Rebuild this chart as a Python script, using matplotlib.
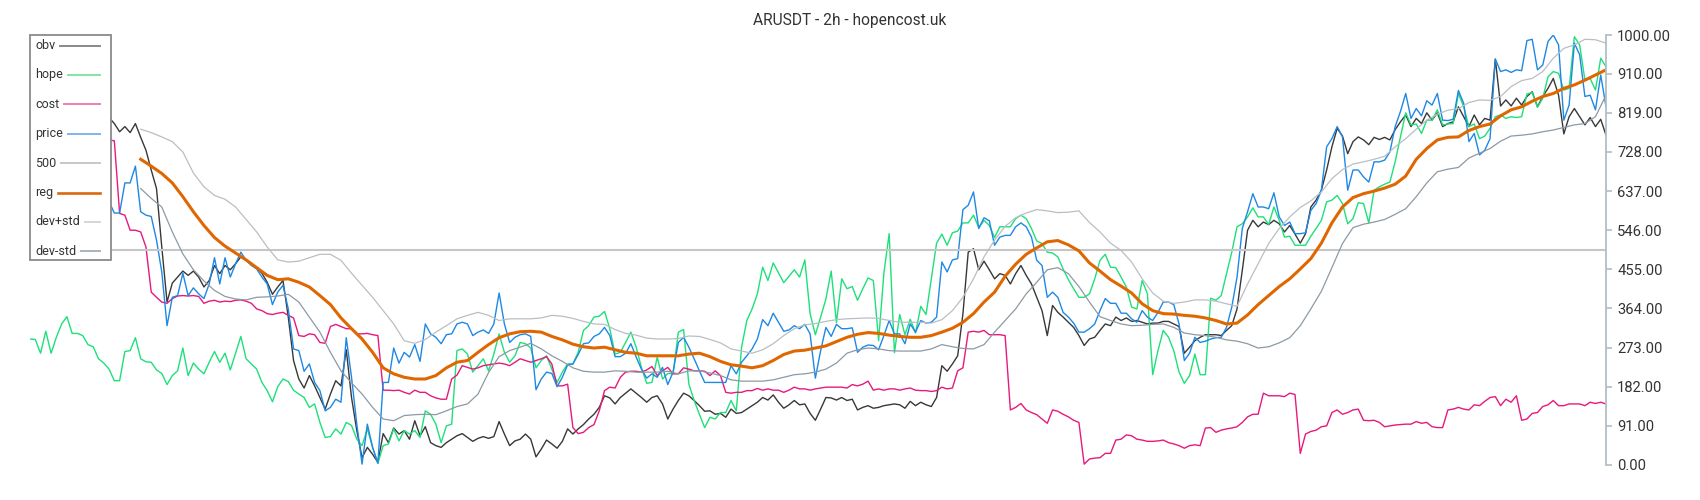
import numpy as np
import matplotlib.pyplot as plt
from matplotlib.lines import Line2D
from matplotlib.patches import Rectangle

plt.rcParams['font.family'] = ['Roboto', 'DejaVu Sans']

title = 'ARUSDT - 2h - hopencost.uk'

# hope: one value per 2h candle (300 candles)
hope = [
    293, 292, 260, 311, 260, 297, 328, 345, 306, 306,
    301, 280, 275, 247, 237, 223, 196, 196, 264, 266,
    296, 247, 240, 239, 221, 213, 187, 208, 219, 272,
    208, 237, 223, 212, 239, 264, 239, 260, 221, 260,
    299, 247, 235, 223, 192, 173, 147, 182, 200, 194,
    174, 165, 157, 134, 142, 99, 64, 66, 84, 72,
    99, 92, 60, 45, 84, 41, 4, 45, 49, 84,
    56, 80, 72, 80, 64, 126, 118, 95, 52, 91,
    95, 266, 270, 258, 216, 231, 247, 219, 258, 305,
    262, 239, 254, 285, 282, 272, 226, 243, 254, 223,
    192, 216, 235, 235, 262, 313, 324, 344, 346, 357,
    317, 258, 262, 285, 309, 274, 227, 190, 192, 251,
    200, 213, 212, 309, 315, 188, 150, 118, 87, 111,
    107, 122, 122, 150, 126, 274, 336, 363, 398, 460,
    429, 470, 447, 424, 439, 454, 437, 477, 352, 303,
    344, 386, 451, 331, 433, 410, 415, 383, 410, 435,
    429, 289, 446, 538, 261, 350, 303, 339, 307, 369,
    350, 433, 516, 537, 511, 540, 544, 563, 563, 581,
    552, 569, 557, 529, 554, 554, 554, 573, 581, 573,
    550, 521, 515, 495, 493, 484, 456, 431, 410, 390,
    390, 398, 433, 476, 490, 460, 459, 437, 414, 367,
    363, 429, 398, 210, 266, 313, 297, 266, 216, 190,
    208, 258, 210, 210, 388, 383, 394, 445, 495, 554,
    561, 577, 598, 577, 577, 559, 600, 569, 530, 532,
    511, 511, 511, 532, 550, 569, 612, 616, 627, 608,
    561, 573, 610, 608, 563, 639, 647, 653, 658, 705,
    763, 819, 791, 793, 771, 802, 802, 826, 791, 793,
    794, 864, 833, 787, 793, 759, 765, 783, 810, 814,
    806, 810, 808, 810, 863, 866, 832, 853, 903, 915,
    911, 872, 876, 996, 977, 895, 899, 872, 946, 926,
]

# obv, cost and price from candle 15 on (earlier candles sit behind the legend)
first_visible = 15
obv = [
    808, 794, 775, 787, 773, 794, 762, 732, 686, 643,
    507, 379, 423, 437, 451, 441, 451, 437, 414, 429,
    464, 445, 464, 454, 468, 484, 476, 468, 459, 446,
    425, 397, 414, 429, 344, 243, 200, 179, 208, 184,
    157, 130, 165, 196, 184, 268, 157, 80, 17, 41,
    25, 6, 73, 52, 86, 72, 80, 60, 103, 68,
    89, 52, 45, 41, 52, 60, 68, 73, 64, 55,
    62, 66, 62, 66, 101, 72, 45, 56, 60, 72,
    60, 19, 37, 58, 49, 39, 55, 84, 72, 84,
    94, 107, 118, 134, 161, 156, 142, 157, 167, 177,
    167, 157, 146, 157, 161, 142, 107, 130, 150, 167,
    161, 150, 138, 125, 126, 118, 120, 111, 130, 120,
    122, 130, 138, 146, 157, 151, 163, 146, 132, 140,
    150, 140, 142, 120, 104, 130, 157, 156, 151, 157,
    150, 153, 128, 134, 138, 132, 134, 138, 140, 142,
    140, 132, 148, 138, 146, 140, 136, 157, 231, 218,
    235, 254, 352, 495, 503, 454, 474, 454, 433, 445,
    441, 421, 445, 464, 441, 421, 390, 359, 301, 371,
    355, 344, 332, 320, 301, 278, 293, 297, 313, 328,
    324, 344, 336, 342, 334, 336, 332, 328, 330, 330,
    334, 334, 328, 322, 260, 274, 289, 297, 303, 303,
    303, 301, 313, 324, 363, 453, 546, 569, 554, 565,
    559, 569, 561, 542, 557, 537, 516, 538, 600, 616,
    639, 686, 740, 783, 765, 724, 752, 763, 756, 745,
    762, 757, 762, 756, 780, 798, 814, 787, 806, 794,
    819, 802, 819, 787, 794, 798, 833, 810, 787, 814,
    791, 806, 802, 944, 835, 849, 835, 853, 837, 857,
    868, 833, 857, 876, 899, 860, 770, 810, 829, 810,
    791, 808, 787, 804, 767,
]
cost = [
    756, 754, 585, 581, 546, 546, 542, 507, 402, 390,
    379, 376, 387, 393, 394, 393, 394, 392, 376, 381,
    383, 379, 381, 380, 383, 384, 381, 376, 363, 359,
    352, 350, 353, 355, 348, 342, 301, 299, 305, 303,
    285, 283, 322, 327, 322, 317, 317, 305, 305, 306,
    303, 301, 174, 174, 173, 174, 169, 165, 174, 169,
    169, 161, 156, 153, 153, 200, 209, 231, 227, 223,
    226, 231, 233, 235, 237, 235, 231, 239, 247, 243,
    239, 243, 247, 252, 235, 184, 184, 188, 87, 73,
    76, 87, 94, 126, 173, 181, 179, 204, 216, 218,
    218, 216, 221, 229, 208, 219, 227, 212, 212, 226,
    223, 219, 219, 218, 208, 219, 208, 169, 167, 169,
    169, 173, 173, 178, 174, 177, 174, 174, 169, 174,
    181, 177, 177, 174, 177, 179, 181, 181, 181, 181,
    179, 187, 184, 188, 195, 174, 177, 174, 177, 177,
    174, 177, 179, 174, 173, 173, 171, 173, 181, 177,
    179, 219, 226, 309, 311, 309, 313, 303, 303, 303,
    301, 128, 134, 143, 128, 122, 117, 107, 97, 128,
    125, 118, 112, 104, 99, 2, 14, 16, 17, 27,
    27, 58, 60, 70, 68, 60, 58, 55, 55, 56,
    58, 52, 49, 45, 39, 45, 47, 45, 86, 87,
    76, 81, 84, 86, 89, 99, 112, 118, 118, 167,
    161, 161, 161, 159, 167, 164, 27, 72, 78, 81,
    89, 91, 122, 128, 118, 122, 128, 130, 104, 103,
    104, 99, 89, 91, 93, 94, 95, 95, 101, 97,
    99, 89, 87, 87, 128, 130, 134, 130, 128, 140,
    138, 148, 157, 159, 138, 153, 146, 161, 104, 107,
    120, 122, 136, 140, 150, 138, 138, 142, 142, 142,
    138, 146, 143, 146, 142,
]
price = [
    612, 586, 586, 656, 656, 695, 589, 581, 578, 523,
    449, 324, 390, 394, 446, 394, 412, 398, 387, 421,
    482, 421, 482, 437, 468, 495, 476, 464, 456, 437,
    421, 373, 402, 418, 363, 270, 266, 218, 235, 192,
    173, 126, 134, 153, 146, 296, 204, 95, 2, 95,
    41, 4, 192, 192, 272, 237, 262, 251, 280, 241,
    328, 305, 297, 282, 303, 305, 328, 332, 328, 301,
    309, 314, 306, 328, 400, 328, 285, 297, 303, 305,
    299, 175, 200, 216, 213, 182, 204, 233, 235, 257,
    282, 284, 299, 305, 320, 301, 252, 252, 260, 282,
    251, 223, 202, 212, 204, 227, 187, 216, 285, 297,
    274, 247, 219, 192, 192, 192, 192, 192, 231, 212,
    239, 254, 270, 293, 338, 324, 353, 332, 311, 314,
    324, 317, 327, 305, 202, 266, 320, 299, 327, 317,
    317, 319, 262, 274, 279, 278, 268, 301, 336, 305,
    305, 282, 328, 309, 336, 330, 332, 344, 472, 449,
    477, 480, 594, 604, 635, 550, 575, 568, 511, 530,
    534, 534, 554, 563, 554, 530, 476, 464, 390, 402,
    390, 355, 344, 330, 309, 309, 317, 328, 359, 387,
    376, 376, 353, 353, 340, 332, 359, 344, 336, 355,
    379, 379, 373, 328, 243, 260, 297, 285, 288, 293,
    296, 297, 320, 367, 437, 550, 589, 631, 600, 600,
    596, 633, 577, 557, 565, 538, 538, 540, 592, 608,
    639, 740, 759, 787, 763, 639, 686, 686, 670, 658,
    705, 705, 709, 728, 787, 822, 864, 806, 829, 812,
    847, 837, 864, 802, 801, 804, 871, 841, 752, 771,
    721, 732, 759, 944, 915, 919, 913, 919, 917, 987,
    990, 919, 930, 985, 1000, 977, 802, 837, 981, 954,
    857, 860, 826, 907, 833,
]

# regression line and its bands, read every second candle from candle 21
band_start = 21
band_step = 2
reg = [
    711, 695, 678, 656, 624, 589, 557, 529, 509, 493,
    477, 459, 441, 431, 433, 425, 414, 394, 373, 342,
    317, 293, 262, 226, 212, 204, 200, 200, 208, 226,
    239, 243, 262, 280, 296, 305, 310, 311, 309, 299,
    291, 281, 275, 272, 274, 268, 262, 260, 254, 254,
    254, 254, 258, 260, 252, 241, 233, 230, 226, 231,
    243, 257, 265, 267, 272, 277, 287, 297, 304, 308,
    306, 302, 299, 297, 297, 301, 309, 318, 332, 352,
    379, 402, 439, 467, 490, 505, 519, 522, 512, 498,
    470, 451, 431, 416, 400, 375, 359, 352, 351, 348,
    346, 342, 336, 328, 330, 349, 373, 394, 415, 433,
    456, 480, 516, 563, 600, 622, 631, 637, 644, 653,
    672, 711, 736, 756, 762, 763, 778, 787, 793, 812,
    826, 833, 846, 857, 864, 876, 884, 895, 907, 919,
]
dev_plus = [
    781, 773, 763, 752, 728, 679, 647, 627, 618, 600,
    571, 542, 507, 477, 472, 474, 482, 490, 490, 476,
    446, 418, 390, 359, 328, 289, 283, 292, 309, 324,
    340, 348, 355, 348, 336, 340, 340, 340, 342, 348,
    346, 341, 334, 328, 327, 315, 306, 302, 295, 293,
    293, 294, 300, 299, 292, 284, 270, 265, 260, 268,
    282, 301, 317, 326, 329, 334, 338, 340, 341, 342,
    341, 336, 332, 332, 332, 330, 338, 359, 390, 433,
    484, 523, 555, 575, 586, 594, 591, 587, 588, 591,
    564, 542, 516, 499, 472, 433, 400, 381, 376, 379,
    384, 384, 381, 375, 369, 421, 468, 515, 550, 577,
    599, 614, 635, 666, 687, 700, 705, 711, 718, 740,
    759, 781, 802, 816, 825, 829, 843, 849, 848, 857,
    880, 894, 899, 915, 946, 969, 977, 990, 989, 981,
]
dev_minus = [
    643, 620, 600, 542, 491, 454, 428, 406, 392, 386,
    384, 390, 391, 393, 397, 379, 344, 309, 262, 219,
    191, 165, 134, 107, 103, 115, 117, 118, 117, 126,
    136, 142, 165, 215, 252, 266, 274, 283, 270, 254,
    241, 226, 218, 216, 216, 219, 218, 216, 216, 216,
    218, 212, 219, 219, 214, 208, 198, 195, 195, 195,
    198, 204, 210, 212, 216, 223, 237, 260, 268, 272,
    270, 266, 265, 265, 265, 270, 280, 275, 271, 270,
    280, 309, 336, 363, 398, 425, 454, 459, 445, 415,
    379, 345, 336, 328, 324, 325, 327, 328, 320, 307,
    303, 301, 297, 291, 288, 282, 272, 275, 284, 296,
    324, 363, 404, 459, 515, 552, 560, 565, 571, 583,
    596, 624, 656, 682, 688, 692, 714, 725, 736, 753,
    765, 767, 770, 775, 779, 785, 791, 794, 810, 860,
]

level_500 = 500
y_ticks = [0, 91, 182, 273, 364, 455, 546, 637, 728, 819, 910, 1000]

legend_labels = ['obv', 'hope', 'cost', 'price', '500', 'reg', 'dev+std', 'dev-std']
legend_colors = ['#8a8a8a', '#7ee6a6', '#ee7cb8', '#7fb6ea', '#c8c8c8', '#db6a0c', '#d2d6d9', '#a9b3ba']
legend_widths = [1.4, 1.4, 1.4, 1.4, 1.4, 1.9, 1.4, 1.4]

W, H = 1700, 500
fig = plt.figure(figsize=(W / 100, H / 100), dpi=100)
ax = fig.add_axes([30 / W, 35 / H, 1576 / W, 430 / H])

x_hope = np.arange(len(hope))
x_obv = np.arange(first_visible, first_visible + len(obv))
x_cost = np.arange(first_visible, first_visible + len(cost))
x_price = np.arange(first_visible, first_visible + len(price))
x_band = np.arange(band_start, band_start + band_step * len(reg), band_step)

ax.plot(x_obv, obv, color='#383838', lw=1.0)
ax.plot(x_hope, hope, color='#1ee07a', lw=1.0)
ax.plot(x_cost, cost, color='#e6197c', lw=1.0)
ax.plot(x_price, price, color='#1e88e5', lw=1.0)
ax.axhline(level_500, color='#c6c6c6', lw=1.5)
ax.plot(x_band, reg, color='#e06700', lw=2.2)
ax.plot(x_band, dev_plus, color='#b8bfc4', lw=0.9)
ax.plot(x_band, dev_minus, color='#8c9aa4', lw=0.9)

ax.set_xlim(0, len(hope) - 1)
ax.set_ylim(0, 1000)
ax.set_xticks([])
ax.yaxis.tick_right()
ax.set_yticks(y_ticks)
ax.set_yticklabels([f'{t:.2f}' for t in y_ticks])
ax.tick_params(axis='y', colors='#b0bec5', labelcolor='#333333',
               length=4, width=1.2, pad=4, labelsize=10.6)
for side in ['top', 'left', 'bottom']:
    ax.spines[side].set_visible(False)
ax.spines['right'].set_color('#b0bec5')
ax.spines['right'].set_linewidth(1.3)

fig.text(0.5, 1 - 20 / H, title, ha='center', va='center', fontsize=11.2, color='#333333')

# legend box in the top-left corner: label left, sample line filling the rest
box = Rectangle((30 / W, 1 - 260 / H), 81 / W, 225 / H, transform=fig.transFigure,
                facecolor='white', edgecolor='#8a8a8a', lw=1.3, zorder=10)
fig.add_artist(box)
renderer = fig.canvas.get_renderer()
for k, (lab, col, lw) in enumerate(zip(legend_labels, legend_colors, legend_widths)):
    yc = 1 - (45.5 + 29.4 * k) / H
    t = fig.text(35 / W, yc, lab, ha='left', va='center', fontsize=9,
                 color='#333333', zorder=11)
    x_end = t.get_window_extent(renderer).x1
    fig.add_artist(Line2D([(x_end + 5) / W, 100 / W], [yc, yc], transform=fig.transFigure,
                          color=col, lw=lw, zorder=11))

fig.savefig('out.png', dpi=100)
